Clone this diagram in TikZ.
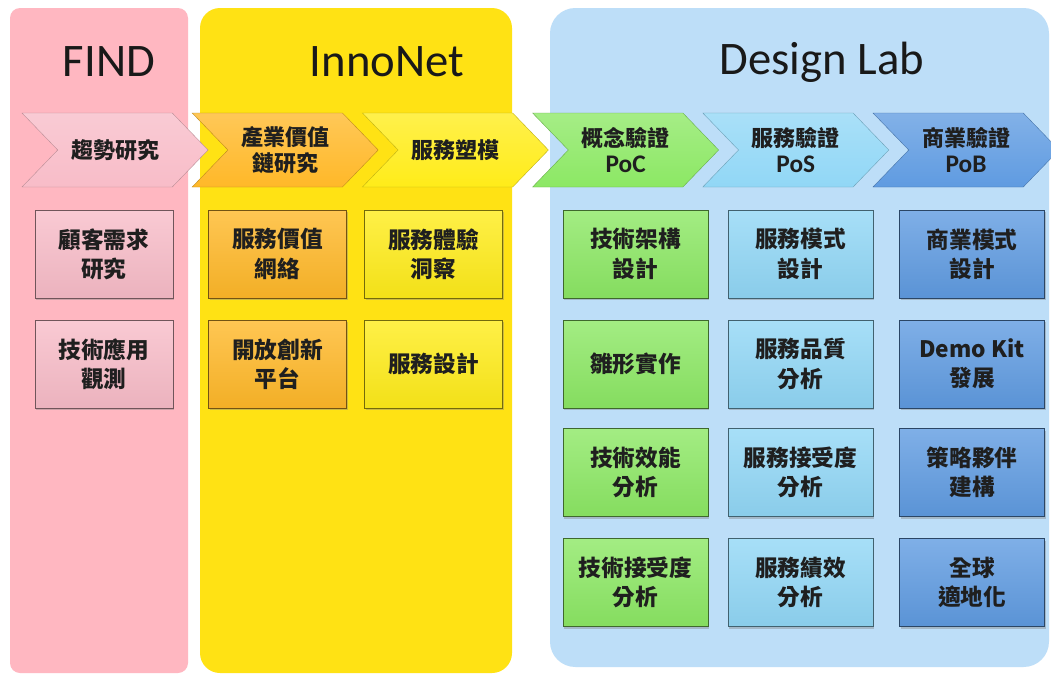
\documentclass[tikz,border=0pt]{standalone}
\usepackage{fontspec}
\setmainfont{Carlito}
\newfontfamily\cjk{Noto Sans CJK TC}
\usetikzlibrary{shapes.symbols, shadows}
\definecolor{findbg}{RGB}{255,183,193}
\definecolor{innobg}{RGB}{255,226,20}
\definecolor{labbg}{RGB}{189,222,248}
\definecolor{pinkbox}{RGB}{248,188,200}
\definecolor{orangebox}{RGB}{255,184,40}
\definecolor{yellowbox}{RGB}{255,236,25}
\definecolor{greenbox}{RGB}{140,232,100}
\definecolor{cyanbox}{RGB}{145,215,246}
\definecolor{bluebox}{RGB}{95,155,225}
% Latin second line of a chevron (PoC, PoS, PoB)
\newcommand{\phasetag}[1]{{\normalfont\bfseries\fontsize{19}{20}\selectfont #1}}

\begin{document}
\begin{tikzpicture}[
        x=0.75pt, y=-0.75pt,
        panel/.style={rectangle, fill=#1, inner sep=0pt},
        paneltitle/.style={font=\fontsize{35}{40}\selectfont, text=black!90},
        phase/.style={signal, signal from=west, signal to=east, signal pointer angle=92,
                      draw=#1!75!black, line width=0.3pt, top color=#1!78!white, bottom color=#1,
                      minimum width=139.5pt, minimum height=55.5pt, inner sep=0pt, align=center,
                      font=\cjk\bfseries\fontsize{16.5}{20}\selectfont, text=black!88},
        task/.style={rectangle, draw=#1!45!black, line width=0.6pt,
                     top color=#1!80!white, bottom color=#1!95!black,
                     minimum width=103.5pt, minimum height=66pt, inner sep=0pt, align=center,
                     font=\cjk\bfseries\fontsize{17}{22}\selectfont, text=black!88,
                     drop shadow={opacity=0.4, shadow xshift=1pt, shadow yshift=-1.5pt}},
        wtask/.style={task=#1, minimum width=108.75pt},
    ]
    \useasboundingbox[fill=white] (0,0) rectangle (1051,675);

    % ===== Background panels =====
    \node[panel=findbg, minimum width=133.5pt, minimum height=498.75pt, rounded corners=7.5pt]
        (find) at (99,340.5) {};
    \node[panel=innobg, minimum width=234pt, minimum height=498.75pt, rounded corners=15pt]
        (innonet) at (356,340.5) {};
    \node[panel=labbg, minimum width=374.25pt, minimum height=494.25pt, rounded corners=19pt]
        (lab) at (799.5,337.5) {};

    \node[paneltitle] (findT) at (109,62) {FIND};
    \node[paneltitle] (innoT) at (387,62) {InnoNet};
    \node[paneltitle] (labT)  at (822,62) {Design Lab};

    % ===== Phase chevrons =====
    \node[phase=pinkbox]   (trend) at (115,150)   {趨勢研究};
    \node[phase=orangebox] (chain) at (285.2,150) {產業價值\\鏈研究};
    \node[phase=yellowbox] (model) at (455.4,150) {服務塑模};
    \node[phase=greenbox]  (poc)   at (625.6,150) {概念驗證\\\phasetag{PoC}};
    \node[phase=cyanbox]   (pos)   at (795.8,150) {服務驗證\\\phasetag{PoS}};
    \node[phase=bluebox]   (pob)   at (966,150)   {商業驗證\\\phasetag{PoB}};

    % ===== FIND tasks =====
    \node[task=pinkbox] (f1) at (104,254) {顧客需求\\研究};
    \node[task=pinkbox] (f2) at (104,364) {技術應用\\觀測};

    % ===== InnoNet tasks =====
    \node[task=orangebox] (i1) at (277.5,254) {服務價值\\網絡};
    \node[task=orangebox] (i2) at (277.5,364) {開放創新\\平台};
    \node[task=yellowbox] (i3) at (433.5,254) {服務體驗\\洞察};
    \node[task=yellowbox] (i4) at (433.5,364) {服務設計};

    % ===== Design Lab tasks =====
    \node[wtask=greenbox] (d1) at (635.5,254)   {技術架構\\設計};
    \node[wtask=greenbox] (d2) at (635.5,364)   {雛形實作};
    \node[wtask=greenbox] (d3) at (635.5,472.5) {技術效能\\分析};
    \node[wtask=greenbox] (d4) at (635.5,582.5) {技術接受度\\分析};

    \node[wtask=cyanbox] (d5) at (800.5,254)   {服務模式\\設計};
    \node[wtask=cyanbox] (d6) at (800.5,364)   {服務品質\\分析};
    \node[wtask=cyanbox] (d7) at (800.5,472.5) {服務接受度\\分析};
    \node[wtask=cyanbox] (d8) at (800.5,582.5) {服務績效\\分析};

    \node[wtask=bluebox] (d9)  at (972,254)   {商業模式\\設計};
    \node[wtask=bluebox] (d10) at (972,364)   {Demo Kit\\發展};
    \node[wtask=bluebox] (d11) at (972,472.5) {策略夥伴\\建構};
    \node[wtask=bluebox] (d12) at (972,582.5) {全球\\適地化};

\end{tikzpicture}
\end{document}
